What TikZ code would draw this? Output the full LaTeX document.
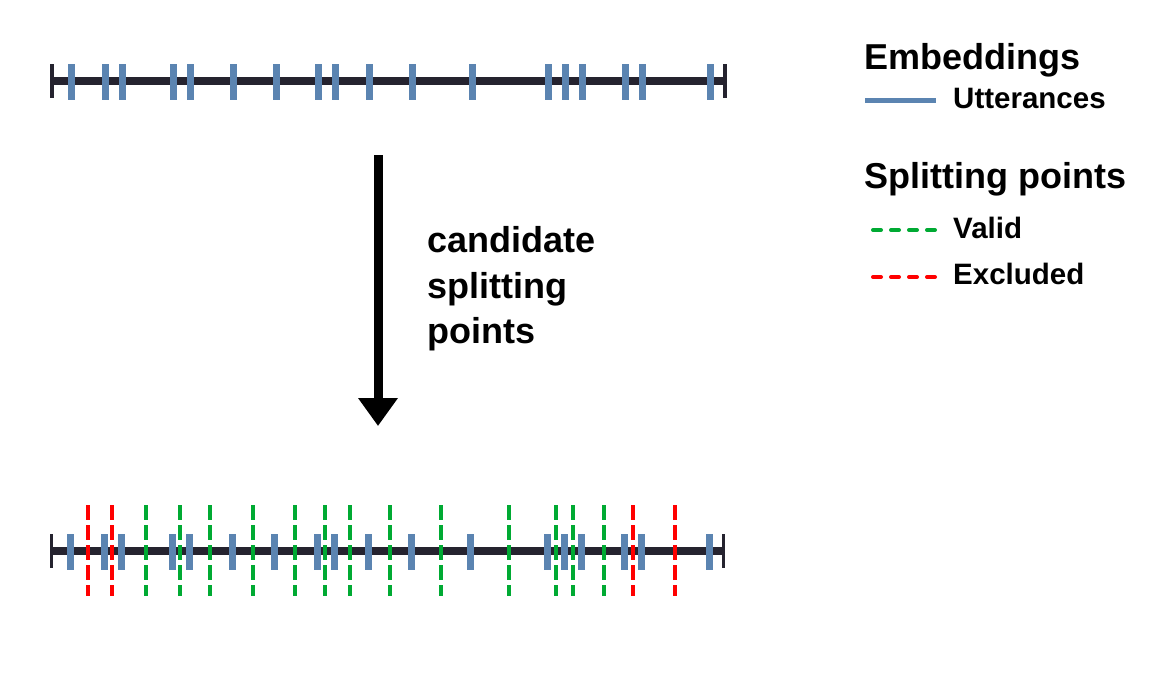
\documentclass[tikz,border=0pt]{standalone}
\usepackage{fontspec}
\setmainfont{Liberation Sans}
\usetikzlibrary{arrows.meta}
\definecolor{axis}{HTML}{25232F}
\definecolor{utt}{HTML}{5B84B1}
\definecolor{valid}{HTML}{00AA33}
\definecolor{excl}{HTML}{FF0000}
\tikzset{
  axisline/.style={draw=axis, line width=8.5pt},
  endtick/.style={draw=axis, line width=3.5pt},
  utttick/.style={draw=utt, line width=6.5pt},
  validline/.style={draw=valid, line width=4pt, dash pattern=on 15pt off 5pt},
  exclline/.style={draw=excl, line width=4pt, dash pattern=on 15pt off 5pt},
  legvalid/.style={draw=valid, line width=4pt, line cap=round, dash pattern=on 8pt off 10pt},
  legexcl/.style={draw=excl, line width=4pt, line cap=round, dash pattern=on 8pt off 10pt},
  bigtitle/.style={font=\bfseries\fontsize{36}{40}\selectfont, inner sep=0pt, anchor=base west},
  legtext/.style={font=\bfseries\fontsize{29.5}{34}\selectfont, inner sep=0pt, anchor=base west},
  label/.style={font=\bfseries\fontsize{36}{45.5}\selectfont, inner sep=0pt, anchor=base west},
  flow/.style={draw=black, line width=9pt, -{Triangle[width=38pt,length=28pt]}}
}
\begin{document}
\begin{tikzpicture}[x=1pt,y=-1pt]
\useasboundingbox (0,0) rectangle (1171,680);
% ---------- top timeline ----------
\coordinate (tl) at (52,81);
\coordinate (tr) at (725,81);
\draw[axisline] (tl) -- (tr);
\draw[endtick] (52,64) -- (52,98);
\draw[endtick] (725,64) -- (725,98);
\foreach \x in {71.5,105.3,122.3,173.3,190.3,233.3,276.3,318.3,335.3,369.3,412.3,472.3,548.3,565.3,582.3,625.3,642.3,710.3}
  \draw[utttick] (\x,64) -- (\x,100);
% ---------- arrow and label ----------
\coordinate (as) at (378,155);
\coordinate (ae) at (378,426);
\draw[flow] (as) -- (ae);
\node[label] (l1) at (427,252) {candidate};
\node[label] (l2) at (427,298) {splitting};
\node[label] (l3) at (427,343) {points};
% ---------- bottom timeline ----------
\coordinate (bl) at (51.5,551);
\coordinate (br) at (723.5,551);
\draw[axisline] (bl) -- (br);
\draw[endtick] (51.5,534) -- (51.5,568);
\draw[endtick] (723.5,534) -- (723.5,568);
\foreach \x in {70.3,104.3,121.3,172.3,189.3,232.3,274.3,317.3,334.3,368.3,411.3,470.3,547.3,564.3,581.3,624.3,641.3,709.3}
  \draw[utttick] (\x,534) -- (\x,570);
\foreach \x in {146.3,180.3,210.3,253.3,295.3,325.3,350.3,390.3,441.3,509.3,556.3,573.3,604.3}
  \draw[validline] (\x,505) -- (\x,596);
\foreach \x in {87.7,112.3,633.3,675.3}
  \draw[exclline] (\x,505) -- (\x,596);
% ---------- legend ----------
\node[bigtitle] (emb) at (864,69) {Embeddings};
\coordinate (u1) at (865,100.5);
\coordinate (u2) at (936,100.5);
\draw[draw=utt, line width=5pt] (u1) -- (u2);
\node[legtext] (utxt) at (953,108) {Utterances};
\node[bigtitle] (spl) at (864,188) {Splitting points};
\coordinate (v1) at (873,230);
\coordinate (v2) at (936,230);
\draw[legvalid] (v1) -- (v2);
\node[legtext] (vtxt) at (953,238) {Valid};
\coordinate (e1) at (873,277);
\coordinate (e2) at (936,277);
\draw[legexcl] (e1) -- (e2);
\node[legtext] (etxt) at (953,284) {Excluded};
\end{tikzpicture}
\end{document}
